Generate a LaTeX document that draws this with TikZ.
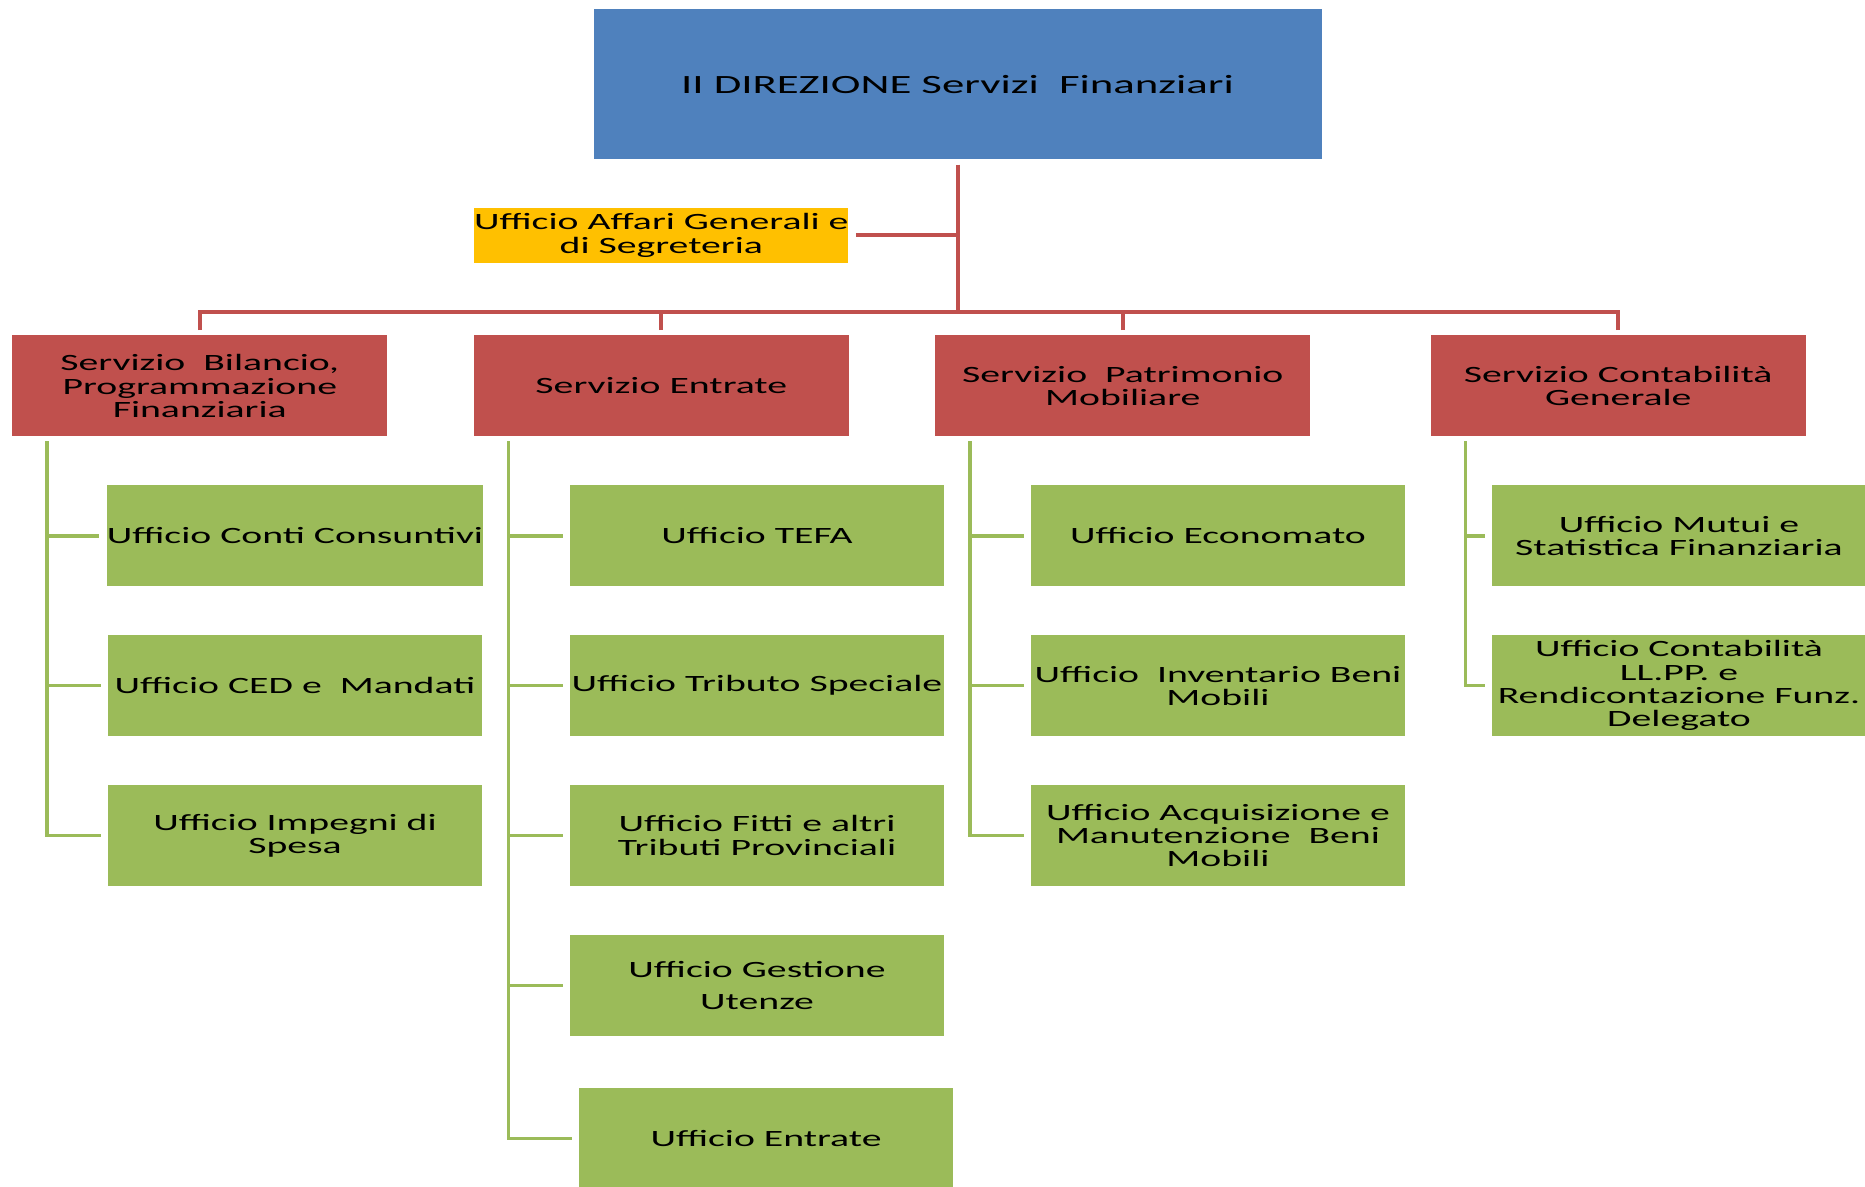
\documentclass[tikz,border=0pt]{standalone}
\usepackage{fontspec}
\setmainfont{Carlito}[FakeStretch=1.7]
\definecolor{dirblue}{HTML}{4F81BD}
\definecolor{servred}{HTML}{C0504D}
\definecolor{uffgreen}{HTML}{9BBB59}
\definecolor{affyellow}{HTML}{FFC000}
\begin{document}
\begin{tikzpicture}[
    box/.style={align=center, inner sep=0pt, font=\fontsize{13.3}{13.3}\selectfont},
    dirbox/.style={box, fill=dirblue, minimum width=14.56cm, minimum height=3cm, font=\fontsize{15}{15}\selectfont},
    affbox/.style={box, fill=affyellow, minimum width=7.47cm, minimum height=1.1cm},
    servbox/.style={box, fill=servred, minimum width=7.5cm, minimum height=2.02cm},
    uffbox/.style={box, fill=uffgreen, minimum width=7.47cm, minimum height=2.02cm},
    rline/.style={draw=servred, line width=0.08cm},
    gline/.style={draw=uffgreen, line width=0.07cm}
  ]
  \useasboundingbox (0,0) rectangle (37.3,-23.74);
  \node[dirbox] (dir) at (19.15,-1.686) {II DIREZIONE Servizi\ \ Finanziari};
  \node[affbox] (aff) at (13.226,-4.71) {Ufficio Affari Generali e\\di Segreteria};
  \node[servbox] (bil) at (3.996,-7.72) {Servizio\ \ Bilancio,\\Programmazione\\Finanziaria};
  \node[servbox] (ent) at (13.226,-7.72) {Servizio Entrate};
  \node[servbox] (pat) at (22.456,-7.72) {Servizio\ \ Patrimonio\\Mobiliare};
  \node[servbox] (con) at (32.364,-7.72) {Servizio Contabilità\\Generale};
  \node[uffbox] (conti) at (5.9,-10.718) {Ufficio Conti Consuntivi};
  \node[uffbox] (ced) at (5.9,-13.714) {Ufficio CED\ e\ \ Mandati};
  \node[uffbox] (imp) at (5.9,-16.71) {Ufficio Impegni di\\Spesa};
  \node[uffbox] (tefa) at (15.14,-10.718) {Ufficio TEFA};
  \node[uffbox] (trib) at (15.14,-13.714) {Ufficio Tributo Speciale};
  \node[uffbox] (fitti) at (15.14,-16.71) {Ufficio Fitti e altri\\Tributi Provinciali};
  \node[uffbox] (gest) at (15.14,-19.71) {Ufficio Gestione\\[5pt]Utenze};
  \node[uffbox] (entr) at (15.32,-22.77) {Ufficio Entrate};
  \node[uffbox] (econ) at (24.36,-10.718) {Ufficio Economato};
  \node[uffbox] (inv) at (24.36,-13.714) {Ufficio\ \ Inventario Beni\\Mobili};
  \node[uffbox] (acq) at (24.36,-16.71) {Ufficio Acquisizione e\\Manutenzione\ \ Beni\\Mobili};
  \node[uffbox] (mut) at (33.58,-10.718) {Ufficio Mutui e\\Statistica Finanziaria};
  \node[uffbox] (llpp) at (33.58,-13.714) {Ufficio Contabilità\\LL.PP. e\\Rendicontazione Funz.\\Delegato};
  \draw[rline] ([yshift=-0.1cm]dir.south) -- ++(0,-2.95) coordinate (bar);
  \draw[rline] ([xshift=0.14cm]aff.east) -- (aff.east -| dir.south);
  \foreach \s in {bil,ent,pat,con}
    \draw[rline] ([yshift=0.1cm]\s.north) |- (bar);
  \foreach \s/\u in {bil/conti,bil/ced,bil/imp,ent/tefa,ent/trib,ent/fitti,ent/gest,ent/entr,pat/econ,pat/inv,pat/acq,con/mut,con/llpp}
    \draw[gline] ([xshift=0.7cm,yshift=-0.09cm]\s.south west) |- ([xshift=-0.14cm]\u.west);
\end{tikzpicture}
\end{document}
